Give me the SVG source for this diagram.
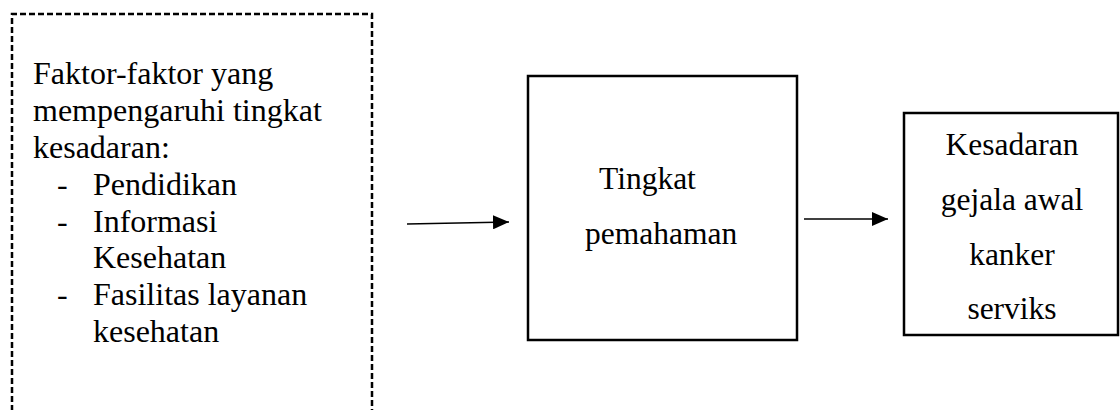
<svg xmlns="http://www.w3.org/2000/svg" width="1120" height="410" viewBox="0 0 1120 410">
<defs>
<style>
.t{font-family:'Liberation Serif','Times New Roman',serif;font-size:31.5px;fill:#000}
.l{font-size:32px}
.box{fill:#fff;stroke:#000;stroke-width:2.5}
.dash{fill:none;stroke:#000;stroke-width:2.5;stroke-dasharray:6 3}
.conn{stroke:#000;stroke-width:1.5;fill:none}
</style>
<marker id="ah2" markerWidth="16" markerHeight="14" refX="16" refY="7" orient="auto" markerUnits="userSpaceOnUse" viewBox="0 0 16 14">
<path d="M0,0 L16,7 L0,14 z" fill="#000"/>
</marker>
</defs>
<g id="factors" class="t l">
<path class="dash" d="M12,420 L12,14 L372,14 L372,420"/>
<text x="33" y="84">Faktor-faktor yang</text>
<text x="33" y="121">mempengaruhi tingkat</text>
<text x="33" y="158">kesadaran:</text>
<text x="57" y="195">-</text><text x="93" y="195">Pendidikan</text>
<text x="57" y="232">-</text><text x="93" y="232">Informasi</text>
<text x="93" y="268">Kesehatan</text>
<text x="57" y="305">-</text><text x="93" y="305">Fasilitas layanan</text>
<text x="93" y="342">kesehatan</text>
</g>
<g id="pemahaman" class="t">
<rect class="box" x="528" y="76" width="269" height="264"/>
<text x="599" y="189">Tingkat</text>
<text x="585" y="244">pemahaman</text>
</g>
<g id="kesadaran" class="t">
<rect class="box" x="904" y="113" width="214" height="222"/>
<text x="1012" y="155" text-anchor="middle">Kesadaran</text>
<text x="1012" y="210" text-anchor="middle">gejala awal</text>
<text x="1012" y="265" text-anchor="middle">kanker</text>
<text x="1012" y="319" text-anchor="middle">serviks</text>
</g>
<g id="connectors">
<line class="conn" x1="407" y1="224" x2="509" y2="222" marker-end="url(#ah2)"/>
<line class="conn" x1="804" y1="219" x2="888" y2="219" marker-end="url(#ah2)"/>
</g>
</svg>
